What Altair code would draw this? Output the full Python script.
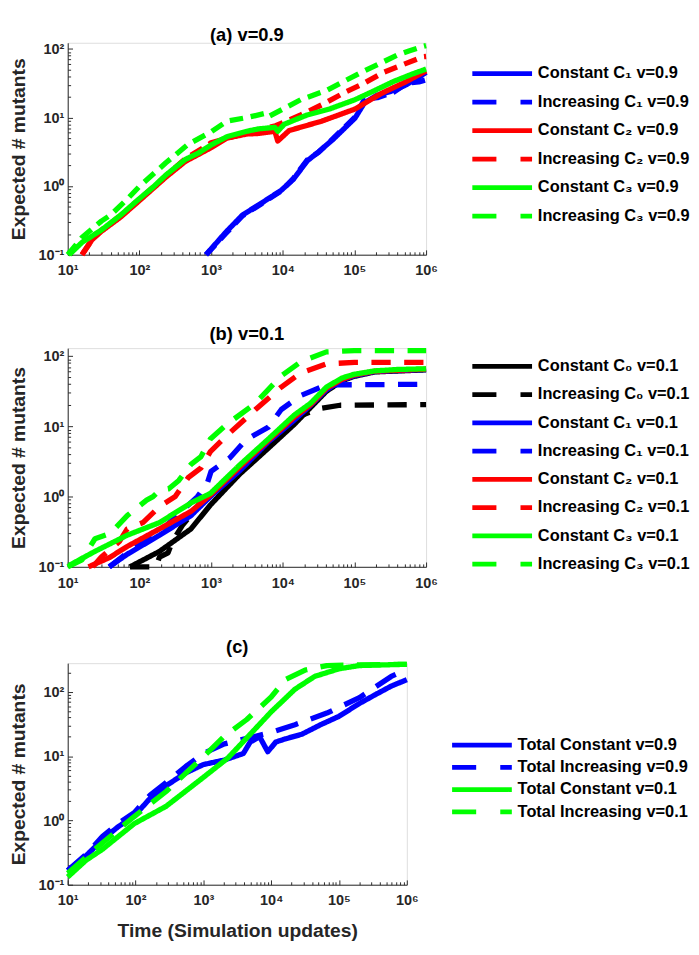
import altair as alt
import pandas as pd

FONT = "Liberation Sans"
AX = "#262626"
BLUE, RED, GREEN, BLACK = "#0000ff", "#ff0000", "#00ff00", "#000000"

# ---------------- panel (a) v=0.9 ----------------
a_labels = ["Constant C₁ v=0.9", "Increasing C₁ v=0.9", "Constant C₂ v=0.9",
            "Increasing C₂ v=0.9", "Constant C₃ v=0.9", "Increasing C₃ v=0.9"]
a_colors = [BLUE, BLUE, RED, RED, GREEN, GREEN]

a_c1c_t = [851, 1580, 2750, 5010, 9550, 14100, 21900, 31600, 50100, 102000, 138000, 209000, 355000, 537000, 813000, 1000000]
a_c1c_n = [0.1, 0.209, 0.38, 0.562, 0.871, 1.26, 2.33, 3.16, 4.78, 9.82, 16.4, 21.2, 24.8, 30.3, 39.3, 45.7]
a_c1i_t = [851, 1580, 2750, 5010, 9550, 14100, 21900, 31600, 50100, 102000, 138000, 209000, 355000, 537000, 794000, 1000000]
a_c1i_n = [0.1, 0.2, 0.37, 0.55, 0.85, 1.3, 2.4, 3.1, 4.9, 10.2, 18.5, 19.5, 23.5, 31.6, 33.1, 35.5]
a_c2c_t = [15.8, 21.9, 29.5, 55, 98, 234, 437, 1000, 1660, 3160, 4620, 7760, 8510, 12300, 34700, 102000, 234000, 537000, 1000000]
a_c2c_n = [0.1, 0.166, 0.219, 0.355, 0.603, 1.35, 2.29, 3.63, 5.01, 5.75, 5.86, 6.31, 4.54, 6.46, 8.83, 13.3, 22.3, 33.7, 47.9]
a_c2i_t = [15.8, 21.9, 29.5, 55, 98, 234, 437, 1000, 2000, 3980, 7940, 17800, 36300, 74100, 126000, 257000, 479000, 891000, 1000000]
a_c2i_n = [0.1, 0.166, 0.229, 0.372, 0.631, 1.41, 2.51, 4.27, 5.25, 6.31, 7.59, 10.9, 15.6, 23.4, 30.3, 45.8, 59.2, 76.6, 77.6]
a_c3c_t = [10.5, 15.8, 29.5, 55, 98, 155, 234, 437, 661, 1000, 1660, 3160, 4620, 7760, 8510, 10500, 21900, 44700, 102000, 191000, 355000, 661000, 1000000]
a_c3c_n = [0.1, 0.151, 0.229, 0.38, 0.646, 0.966, 1.45, 2.45, 3.02, 3.98, 5.25, 6.31, 6.84, 7.19, 6.3, 7.98, 10.9, 13.3, 18.2, 24.7, 33.7, 43.6, 50.8]
a_c3i_t = [10, 15.8, 29.5, 39.8, 67.6, 97.7, 234, 479, 1000, 1660, 3160, 5690, 6310, 17800, 40700, 74100, 126000, 234000, 389000, 589000, 933000, 1000000]
a_c3i_n = [0.1, 0.178, 0.309, 0.38, 0.646, 0.966, 2.19, 4.07, 6.17, 8.83, 10.0, 11.5, 10.3, 18.2, 24.8, 34.4, 45.8, 62.4, 80.5, 94.0, 110, 112]

# ---------------- panel (b) v=0.1 ----------------
b_labels = ["Constant C₀ v=0.1", "Increasing C₀ v=0.1", "Constant C₁ v=0.1", "Increasing C₁ v=0.1",
            "Constant C₂ v=0.1", "Increasing C₂ v=0.1", "Constant C₃ v=0.1", "Increasing C₃ v=0.1"]
b_colors = [BLACK, BLACK, BLUE, BLUE, RED, RED, GREEN, GREEN]

b_c0c_t = [74, 191, 525, 977, 2510, 6310, 14500, 24500, 40700, 67600, 97700, 191000, 1000000]
b_c0c_n = [0.1, 0.166, 0.347, 0.759, 2.09, 4.90, 10.7, 18.6, 31.6, 44.7, 51.3, 59.6, 63.8]
b_c0i_t = [74, 170, 191, 251, 288, 398, 589, 692, 1000, 1820, 3980, 11200, 17800, 31600, 63100, 1000000]
b_c0i_n = [0.1, 0.1, 0.138, 0.158, 0.229, 0.389, 0.631, 0.794, 1.12, 1.70, 4.17, 10.0, 14.1, 17.8, 20.0, 20.4]
b_c1c_t = [38, 67.6, 191, 525, 977, 2510, 6310, 14500, 24500, 40700, 67600, 97700, 191000, 1000000]
b_c1c_n = [0.1, 0.151, 0.282, 0.537, 1.0, 2.34, 6.03, 12.3, 20.0, 33.1, 45.7, 52.5, 60.3, 64.6]
b_c1i_t = [38, 67.6, 191, 398, 646, 891, 1000, 1820, 3090, 6310, 9550, 17800, 40700, 1000000]
b_c1i_n = [0.1, 0.158, 0.316, 0.631, 1.0, 1.58, 2.29, 3.55, 6.46, 9.77, 17.4, 27.5, 38.9, 39.8]
b_c2c_t = [19.5, 38, 67.6, 191, 525, 977, 2510, 6310, 14500, 24500, 40700, 67600, 97700, 191000, 1000000]
b_c2c_n = [0.1, 0.135, 0.195, 0.347, 0.617, 1.05, 2.63, 6.31, 13.5, 20.4, 34.7, 46.8, 53.7, 61.0, 65.3]
b_c2i_t = [22.4, 29.5, 52.5, 67.6, 112, 191, 316, 479, 724, 977, 1660, 4170, 9550, 17800, 40700, 100000, 1000000]
b_c2i_n = [0.1, 0.138, 0.229, 0.347, 0.427, 0.724, 1.0, 1.86, 2.57, 4.37, 7.41, 17.4, 36.3, 57.5, 77.6, 81.3, 81.3]
b_c3c_t = [10.5, 24.0, 67.6, 191, 525, 977, 2510, 6310, 14500, 24500, 40700, 67600, 97700, 191000, 398000, 1000000]
b_c3c_n = [0.105, 0.166, 0.282, 0.427, 0.813, 1.11, 2.82, 6.61, 14.5, 21.4, 36.3, 49.0, 55.0, 61.7, 64.6, 66.1]
b_c3i_t = [10, 15.8, 24, 39.8, 67.6, 126, 155, 191, 257, 355, 479, 525, 724, 977, 1660, 4170, 9550, 17800, 40700, 100000, 1000000]
b_c3i_n = [0.1, 0.126, 0.251, 0.302, 0.537, 0.891, 1.0, 1.23, 1.29, 1.70, 2.57, 2.88, 3.72, 6.61, 10.7, 21.4, 52.5, 83.2, 115, 120, 120]

# ---------------- panel (c) totals ----------------
c_labels = ["Total Constant v=0.9", "Total Increasing v=0.9", "Total Constant v=0.1", "Total Increasing v=0.1"]
c_colors = [BLUE, BLUE, GREEN, GREEN]

c_b_c_t = [10, 18.6, 32.4, 55, 95.5, 166, 282, 550, 1000, 2040, 3890, 4900, 6760, 8910, 11700, 16200, 28200, 53700, 100000, 200000, 347000, 589000, 1000000]
c_b_c_n = [0.166, 0.282, 0.501, 0.794, 1.17, 2.24, 3.47, 5.50, 7.41, 8.71, 11.0, 16.6, 20.0, 11.7, 16.6, 18.6, 21.9, 30.9, 41.7, 66.1, 91.2, 123, 155]
c_b_i_t = [10, 18.6, 32.4, 55, 95.5, 166, 282, 550, 1000, 2040, 4900, 10000, 22400, 66100, 200000, 589000, 1000000]
c_b_i_n = [0.166, 0.295, 0.562, 0.891, 1.32, 2.51, 3.89, 6.92, 11.0, 15.5, 19.5, 23.4, 30.9, 46.8, 81.3, 174, 224]
c_g_c_t = [10, 18.6, 32.4, 95.5, 282, 1000, 2290, 4900, 10000, 22400, 43700, 100000, 200000, 1000000]
c_g_c_n = [0.132, 0.24, 0.355, 0.891, 1.66, 4.68, 9.33, 21.9, 49.0, 110, 174, 229, 257, 269]
c_g_i_t = [10, 32.4, 95.5, 282, 1000, 2000, 4370, 10000, 16200, 31600, 66100, 200000, 1000000]
c_g_i_n = [0.151, 0.447, 1.15, 2.82, 9.77, 20.0, 37.2, 83.2, 155, 219, 257, 263, 269]

x_major = [10, 100, 1000, 10000, 100000, 1000000]
x_minor_all = [k * 10 ** d for d in range(1, 6) for k in range(1, 10)] + [1000000]


def frame(labels, series):
    parts = []
    for lab, (t, n) in zip(labels, series):
        parts.append(pd.DataFrame({"t": t, "n": n, "series": lab}))
    return pd.concat(parts, ignore_index=True)


df_a = frame(a_labels, [(a_c1c_t, a_c1c_n), (a_c1i_t, a_c1i_n), (a_c2c_t, a_c2c_n),
                        (a_c2i_t, a_c2i_n), (a_c3c_t, a_c3c_n), (a_c3i_t, a_c3i_n)])
df_b = frame(b_labels, [(b_c0c_t, b_c0c_n), (b_c0i_t, b_c0i_n), (b_c1c_t, b_c1c_n), (b_c1i_t, b_c1i_n),
                        (b_c2c_t, b_c2c_n), (b_c2i_t, b_c2i_n), (b_c3c_t, b_c3c_n), (b_c3i_t, b_c3i_n)])
df_c = frame(c_labels, [(c_b_c_t, c_b_c_n), (c_b_i_t, c_b_i_n), (c_g_c_t, c_g_c_n), (c_g_i_t, c_g_i_n)])

LABEL_EXPR = "'10' + ['⁻¹','⁰','¹','²','³','⁴','⁵','⁶'][round(log(datum.value)/LN10) + 1]"
MAJOR_TEST = "abs(log(datum.value)/LN10 - round(log(datum.value)/LN10)) < 0.001"
TICK_SIZE = {"condition": {"test": MAJOR_TEST, "value": 5}, "value": 3}
LEG_DASH = [25, 25]


def panel(df, labels, colors, dash, width, height, ytop, title, title_off, leg_x, leg_y, row_pad, xtitle=None):
    xs = alt.Scale(type="log", domain=[10, 1000000], nice=False)
    ys = alt.Scale(type="log", domain=[0.1, ytop], nice=False)
    y_major = [v for v in [0.1, 1, 10, 100] if v <= ytop]
    y_all = [k * 10.0 ** d for d in range(-1, 3) for k in range(1, 10) if k * 10.0 ** d <= ytop]
    dash_range = [dash if "Increasing" in lab else [1, 0] for lab in labels]
    leg_dash_range = [LEG_DASH if "Increasing" in lab else [1, 0] for lab in labels]

    x_axis = dict(values=x_major, labelExpr=LABEL_EXPR, ticks=False, tickSize=0, labelFlush=False,
                  labelOverlap=False, labelPadding=9, labelFont=FONT, labelFontSize=15,
                  labelFontWeight="bold", labelColor=AX, domainColor=AX, domainWidth=1, grid=False)
    if xtitle:
        x_axis.update(title=xtitle, titleFont=FONT, titleFontSize=20, titleFontWeight="bold",
                      titleColor=AX, titlePadding=14)
    else:
        x_axis.update(title=None)

    lines = alt.Chart(df).mark_line(strokeWidth=5.5, clip=False, strokeJoin="round").encode(
        x=alt.X("t:Q", scale=xs, axis=alt.Axis(**x_axis)),
        y=alt.Y("n:Q", scale=ys, axis=alt.Axis(
            values=y_major, labelExpr=LABEL_EXPR, ticks=False, tickSize=0, labelOverlap=False,
            labelPadding=4, labelFont=FONT, labelFontSize=15, labelFontWeight="bold", labelColor=AX,
            domainColor=AX, domainWidth=1, grid=False, title="Expected # mutants", titleFont=FONT,
            titleFontSize=20, titleFontWeight="bold", titleColor=AX, titlePadding=10)),
        color=alt.Color("series:N", scale=alt.Scale(domain=labels, range=colors), legend=None),
        strokeDash=alt.StrokeDash("series:N", scale=alt.Scale(domain=labels, range=dash_range), legend=None),
    )
    leg = alt.Legend(orient="none", legendX=leg_x, legendY=leg_y, title=None,
                     symbolType="M-3,0H3", symbolSize=427, symbolStrokeWidth=5,
                     labelFont=FONT, labelFontSize=17, labelFontWeight="bold",
                     labelColor="black", labelOffset=24, labelLimit=400,
                     rowPadding=row_pad, padding=0)
    legend_layer = alt.Chart(df).transform_filter("datum.t < 0").mark_line(strokeWidth=5).encode(
        x=alt.X("t:Q", scale=xs, axis=None),
        y=alt.Y("n:Q", scale=ys, axis=None),
        color=alt.Color("series:N", scale=alt.Scale(domain=labels, range=colors), legend=leg),
        strokeDash=alt.StrokeDash("series:N", scale=alt.Scale(domain=labels, range=leg_dash_range), legend=leg),
    )
    ticks = alt.Chart(df).mark_point(opacity=0).encode(
        x=alt.X("t:Q", scale=xs, axis=alt.Axis(orient="top", offset=-height, values=x_minor_all,
                                               labels=False, domain=False, ticks=True, tickSize=TICK_SIZE,
                                               tickColor=AX, tickWidth=1, grid=False, title=None)),
        y=alt.Y("n:Q", scale=ys, axis=alt.Axis(orient="right", offset=-width, values=y_all,
                                               labels=False, domain=False, ticks=True, tickSize=TICK_SIZE,
                                               tickColor=AX, tickWidth=1, grid=False, title=None)),
    )
    return alt.layer(lines, legend_layer, ticks).resolve_scale(
        color="independent", strokeDash="independent"
    ).resolve_axis(x="independent", y="independent").properties(
        width=width, height=height,
        title=alt.TitleParams(title, font=FONT, fontSize=19, fontWeight="bold", color="black",
                              anchor="middle", frame="group", offset=title_off))


pa = panel(df_a, a_labels, a_colors, [14, 8], 372, 220, 123, "(a) v=0.9", -3, 438, 19, 6.6)
pb = panel(df_b, b_labels, b_colors, [20, 14], 372, 227, 130, "(b) v=0.1", 4, 438, 6, 6.3)
pc = panel(df_c, c_labels, c_colors, [24, 14], 352, 230, 280, "(c)", 5, 417, 72, 0.1,
           xtitle="Time (Simulation updates)")

chart = alt.vconcat(pa, pb, pc, spacing=48).resolve_scale(
    x="independent", y="independent", color="independent", strokeDash="independent"
).resolve_legend(color="independent", strokeDash="independent").properties(
    padding={"left": 0, "top": 0, "right": 0, "bottom": 0}
).configure_view(stroke=None).configure(background="white")

chart.save("out.html", embed_options={"renderer": "svg", "actions": False})
